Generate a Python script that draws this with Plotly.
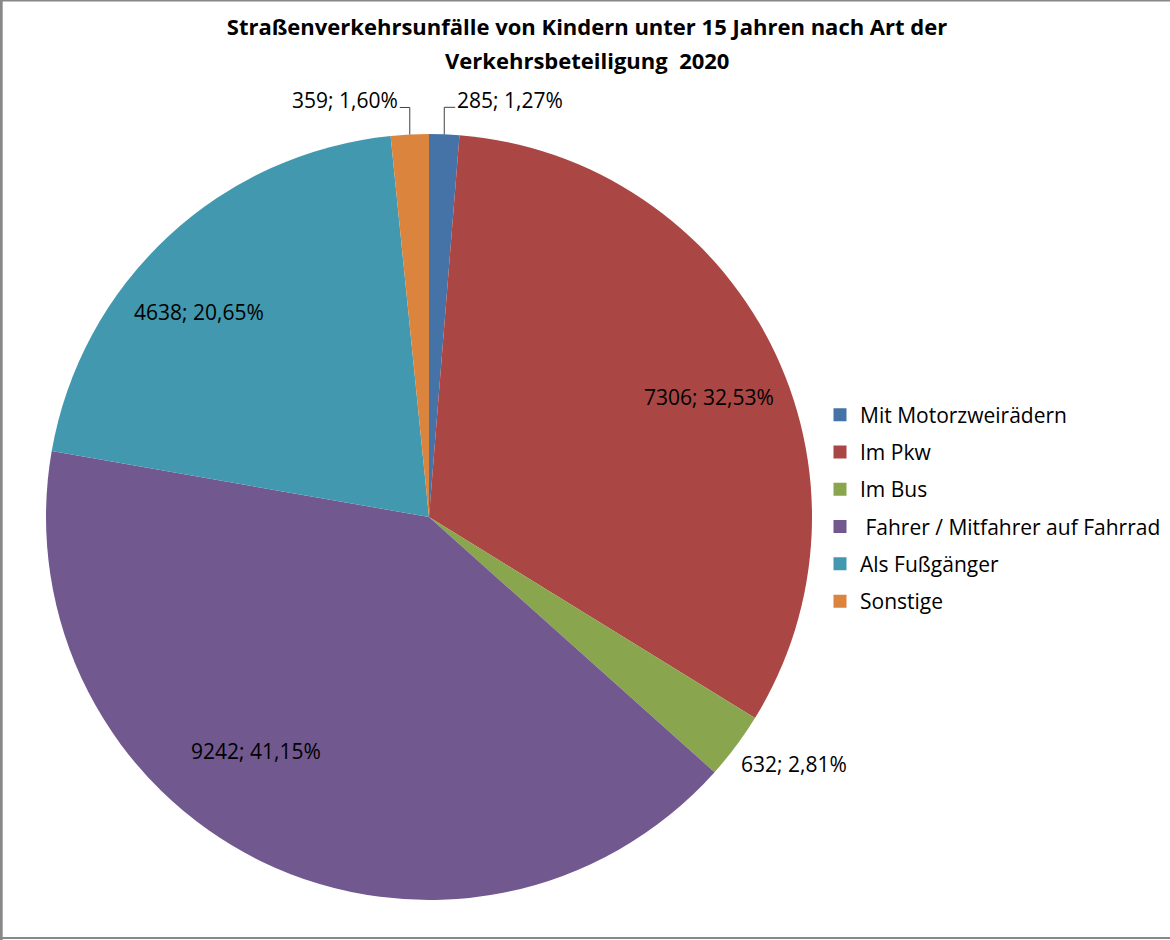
import numpy as np
import plotly.graph_objects as go

# Verkehrsbeteiligung 2020, Kinder unter 15 Jahren
categories = ["Mit Motorzweirädern", "Im Pkw", "Im Bus",
              " Fahrer / Mitfahrer auf Fahrrad", "Als Fußgänger", "Sonstige"]
accidents = [285, 7306, 632, 9242, 4638, 359]
colors = ["#4572A7", "#AA4643", "#89A54E", "#71588F", "#4198AF", "#DB843D"]

# label placement (Excel "best fit" look): radius factor, pixel nudge, anchor, leader line
label_k = [1.0, 0.78, 1.0, 0.78, 0.78, 1.0]
label_nudge = [(11, -34), (14, 15), (3, 18), (-43, -35), (-27, 14), (-10, -34)]
label_xanchor = ["left", "center", "left", "center", "center", "right"]
label_leader = [True, False, False, False, False, True]

W, H = 1170, 940
cx, cy, r = 429, 517, 383
FONT = "Open Sans"


def px2paper(x, y):
    return x / W, 1 - y / H


def de_num(v):
    return f"{v:.2f}".replace(".", ",")


fig = go.Figure()
fig.add_trace(go.Pie(
    labels=categories,
    values=accidents,
    sort=False,
    direction="clockwise",
    rotation=0,
    marker=dict(colors=colors, line=dict(width=0)),
    textinfo="none",
    hoverinfo="label+value+percent",
    showlegend=False,
    domain=dict(x=[(cx - r) / W, (cx + r) / W],
                y=[1 - (cy + r) / H, 1 - (cy - r) / H]),
))

# legend entries (kept separate so the spacing can match the original)
for name, col in zip(categories, colors):
    fig.add_trace(go.Scatter(x=[None], y=[None], mode="markers", name=name,
                             legendgroup=name,
                             marker=dict(symbol="square", size=13, color=col)))

# data labels: "value; percent" at the slice bisector
total = sum(accidents)
ends = np.cumsum(accidents) / total
starts = ends - np.array(accidents) / total
annotations = []
shapes = []
for i, v in enumerate(accidents):
    a = 2 * np.pi * (starts[i] + ends[i]) / 2
    ax = cx + label_k[i] * r * np.sin(a)
    ay = cy - label_k[i] * r * np.cos(a)
    lx, ly = ax + label_nudge[i][0], ay + label_nudge[i][1]
    x, y = px2paper(lx, ly)
    annotations.append(dict(
        x=x, y=y, xref="paper", yref="paper", showarrow=False,
        xanchor=label_xanchor[i], yanchor="middle",
        text=f"{v}; {de_num(100 * v / total)}%",
        font=dict(family=FONT, size=21, color="black"),
    ))
    if label_leader[i]:
        x0, y0 = px2paper(ax, ay)
        x1, y1 = px2paper(ax, ly + 7)
        x2, _ = px2paper(lx, ly + 7)
        shapes.append(dict(type="path", xref="paper", yref="paper",
                           path=f"M {x0},{y0} L {x1},{y1} L {x2},{y1}",
                           line=dict(color="#404040", width=1)))

# second title line
annotations.append(dict(
    x=587 / W, y=1 - 60 / H, xref="paper", yref="paper", showarrow=False,
    xanchor="center", yanchor="middle",
    text="<b>Verkehrsbeteiligung  2020</b>",
    font=dict(family=FONT, size=22, color="black"),
))

# chart area frame (top, left, bottom)
frame = dict(color="#888888", width=2)
shapes += [
    dict(type="line", xref="paper", yref="paper", x0=0, x1=1, y0=0.9995, y1=0.9995, line=frame),
    dict(type="line", xref="paper", yref="paper", x0=0.001, x1=0.001, y0=0, y1=1,
         line=dict(color="#888888", width=3)),
    dict(type="line", xref="paper", yref="paper", x0=0, x1=1, y0=0.002, y1=0.002, line=frame),
]

fig.update_layout(
    width=W, height=H,
    margin=dict(l=0, r=0, t=0, b=0),
    paper_bgcolor="white",
    plot_bgcolor="white",
    font=dict(family=FONT, color="black"),
    title=dict(
        text="<b>Straßenverkehrsunfälle von Kindern unter 15 Jahren nach Art der</b>",
        x=587 / W, xanchor="center",
        y=1 - 27 / H, yanchor="middle", yref="container",
        font=dict(family=FONT, size=22, color="black"),
    ),
    xaxis=dict(visible=False),
    yaxis=dict(visible=False),
    legend=dict(
        x=820 / W, xanchor="left",
        y=1 - 508 / H, yanchor="middle",
        font=dict(family=FONT, size=21, color="black"),
        tracegroupgap=7,
        bgcolor="rgba(0,0,0,0)",
    ),
    annotations=annotations,
    shapes=shapes,
)

fig.write_html("out.html", config={"displayModeBar": False},
               post_script="document.body.style.margin='0px';")
